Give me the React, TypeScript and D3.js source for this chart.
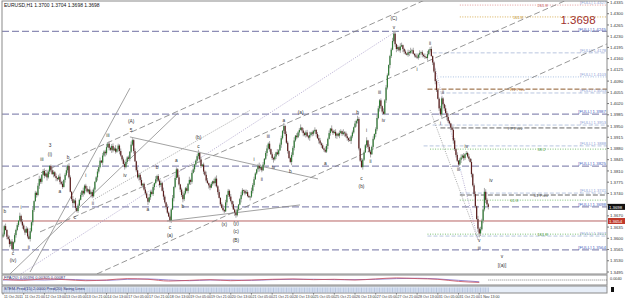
import React from "react";
import * as d3 from "d3";

// ---------- DATA ----------
// H1 closes, in pips above 1.0000 (3698 -> 1.3698); open = previous close
const FIRST_OPEN = 3605;
const CLOSES = [
  3612,3638,3626,3605,3598,3582,3590,3566,3588,3610,
  3626,3641,3655,3670,3652,3640,3628,3618,3630,3606,
  3598,3622,3650,3688,3716,3742,3735,3764,3785,3776,
  3798,3810,3795,3802,3790,3808,3826,3812,3800,3806,
  3794,3788,3784,3792,3776,3770,3760,3782,3798,3812,
  3826,3790,3745,3722,3710,3718,3695,3685,3702,3720,
  3735,3748,3740,3764,3755,3746,3752,3738,3744,3731,
  3752,3776,3790,3808,3822,3842,3836,3858,3870,3865,
  3884,3895,3882,3876,3888,3874,3880,3870,3878,3889,
  3872,3858,3846,3832,3822,3838,3852,3848,3870,3892,
  3906,3872,3840,3812,3790,3798,3782,3765,3770,3752,
  3740,3726,3714,3728,3745,3738,3760,3772,3784,3794,
  3780,3766,3772,3748,3730,3712,3698,3680,3668,3656,
  3690,3725,3760,3788,3815,3790,3768,3752,3735,3722,
  3740,3756,3748,3770,3782,3776,3804,3815,3830,3842,
  3856,3866,3846,3825,3830,3808,3798,3780,3772,3765,
  3758,3770,3778,3772,3786,3762,3744,3726,3706,3695,
  3688,3684,3712,3735,3748,3730,3716,3706,3690,3680,
  3672,3690,3705,3722,3735,3750,3748,3740,3744,3732,
  3728,3730,3748,3766,3784,3802,3815,3826,3818,3822,
  3812,3830,3848,3866,3880,3895,3878,3862,3850,3846,
  3855,3868,3862,3874,3892,3912,3935,3950,3925,3898,
  3872,3850,3838,3860,3882,3905,3920,3915,3930,3938,
  3945,3936,3928,3922,3930,3918,3914,3922,3930,3926,
  3934,3938,3925,3912,3905,3896,3890,3880,3876,3870,
  3888,3910,3928,3942,3935,3928,3932,3920,3926,3920,
  3928,3934,3925,3930,3927,3918,3912,3906,3904,3918,
  3930,3946,3958,3966,3972,3880,3842,3822,3845,3868,
  3890,3905,3885,3870,3862,3885,3910,3925,3940,3975,
  4005,4030,4012,3995,3988,4030,4070,4108,4140,4168,
  4188,4215,4238,4205,4190,4196,4186,4198,4202,4190,
  4182,4176,4172,4180,4178,4184,4186,4175,4170,4166,
  4163,4172,4178,4180,4172,4168,4165,4162,4174,4186,
  4190,4168,4148,4120,4090,4062,4035,4005,3986,4036,
  4018,4005,3990,3978,3965,3958,3945,3938,3905,3878,
  3860,3842,3830,3845,3852,3858,3850,3862,3866,3855,
  3848,3838,3800,3765,3738,3700,3660,3630,3615,3628,
  3655,3690,3745,3720,3706,3698,
];
// upper / lower shadows per bar, in units of 2 pips
const UP_WICKS = [
  "3241352413","2315243142","3524132452","1342531243","2413524135",
  "2431524132","4152341524","3124351423","5142342513","2413542315",
  "3241523412","4315234152","3142531423","2514324135","4231524312",
  "3524132541","2314352413","5241324152","3412531243","2153421354",
  "2413524132","4152341524","3124351423","5142342513","2413542315",
  "3241523412","4315234152","3142531423","2514324135","4231524312",
  "3544132541","2314352413","5241324152","3412531243","2153421354",
  "2413524132","4152341524","326432",
].join("");
const DN_WICKS = [
  "2314253142","4231352413","1425314253","3142524315","2531423142",
  "4213524231","1352423153","2415321425","3142531324","5231423142",
  "2413254132","3152413524","2431524213","4152312435","3214253142",
  "2453142315","4132524131","2315342415","4231524312","1524312453",
  "3142524135","2413152432","4125342315","1352413524","3241524132",
  "2514231452","4132524315","3215432142","1432514253","2543124315",
  "3124532415","4213524132","2351423142","3142531425","2415324153",
  "4231524312","3152431564","243524",
].join("");

const TIME_LABELS = [
  "11 Oct 2011","11 Oct 21:00","12 Oct 13:00","13 Oct 05:00","13 Oct 21:00",
  "14 Oct 13:00","17 Oct 05:00","17 Oct 21:00","18 Oct 13:00","19 Oct 05:00",
  "19 Oct 21:00","20 Oct 13:00","21 Oct 05:00","21 Oct 21:00","24 Oct 13:00",
  "25 Oct 05:00","25 Oct 21:00","26 Oct 13:00","27 Oct 05:00","27 Oct 21:00",
  "28 Oct 13:00","31 Oct 05:00","31 Oct 21:00","1 Nov 13:00",
];
const TIME_LABEL_STEP = 16;

const PRICE_TICKS = [
  1.4335,1.4300,1.4265,1.4230,1.4195,1.4160,1.4125,1.4090,1.4055,1.4020,
  1.3985,1.3950,1.3915,1.3880,1.3845,1.3810,1.3775,1.3740,1.3705,1.3670,
  1.3635,1.3600,1.3565,1.3530,1.3495,
];

const FULL_LEVELS = [1.4245, 1.3987, 1.3825, 1.3698, 1.3564];
const RED_LEVEL = 1.3654;
const LAST_PRICE = 1.3698;

// levels drawn from a start bar to the right edge
const SIDE_LEVELS: [number, number, string, string, number][] = [
  // price, start bar, kind, text, text bar
  [1.4327, 353, "pink", "261.8", 413],
  [1.4290, 353, "gold", "161.8", 394],
  [1.4178, 332, "light", "", 0],
  [1.4103, 338, "lightdot", "", 0],
  [1.4065, 328, "pivot", "R1 Prev", 392],
  [1.4053, 338, "light", "", 0],
  [1.3953, 332, "light", "", 0],
  [1.3944, 338, "pivotgray", "PP Prev", 390],
  [1.3888, 325, "light", "", 0],
  [1.3878, 330, "green", "38.2", 413],
  [1.3741, 353, "light", "", 0],
  [1.3735, 353, "pivotgray", "S1 Prev", 410],
  [1.3719, 353, "green", "61.8", 392],
  [1.3613, 328, "green", "161.8", 413],
  [1.3607, 328, "light", "", 0],
];

// trend lines: [bar1, price1, bar2, price2, kind]
const TREND_LINES: [number, number, number, number, string][] = [
  [-2.3, 1.3747, 326.1, 1.4343, "dash"],
  [28.6, 1.3620, 435.8, 1.4343, "dash"],
  [72.6, 1.3489, 466.7, 1.4206, "dash"],
  [20.9, 1.3495, 98.1, 1.4068, "solid"],
  [5.4, 1.3489, 135.2, 1.3991, "solid"],
  [98.1, 1.3916, 243.4, 1.3785, "solid"],
  [126.7, 1.3654, 229.5, 1.3704, "solid"],
  [13.9, 1.3489, 302.9, 1.4243, "dotpurple"],
  [69.5, 1.3719, 190.9, 1.3999, "dot"],
  [332.3, 1.4156, 367.1, 1.3595, "dotpurple"],
  [330, 1.4000, 367.1, 1.3595, "dot"],
];

// wave labels: [bar, price, text]
const WAVE_LABELS: [number, number, string][] = [
  [1.5,1.3682,"b"],[7.7,1.3553,"c"],[7.7,1.3530,"(iv)"],[13.9,1.3694,"i"],
  [20,1.3570,"ii"],[30.1,1.3844,"iii"],[36.3,1.3890,"3"],[36.3,1.3862,"(i)"],
  [44,1.3744,"a"],[50.2,1.3850,"b"],[55.6,1.3663,"c"],[64,1.3795,"i"],
  [69.5,1.3707,"ii"],[81.1,1.3919,"iii"],[94.3,1.3794,"iv"],[99,1.3934,"5"],
  [99,1.3962,"(A)"],[112,1.3688,"a"],[119,1.3819,"b"],[129,1.3634,"c"],
  [129,1.3608,"(a)"],[134,1.3841,"a"],[139,1.3697,"b"],[151,1.3886,"c"],
  [151,1.3912,"(b)"],[171,1.3641,"(x)"],[180,1.3644,"(y)"],[180,1.3619,"(c)"],
  [180,1.3594,"(B)"],[194,1.3844,"i"],[200,1.3782,"ii"],[205,1.3916,"iii"],
  [209,1.3819,"iv"],[217,1.3968,"a"],[222,1.3807,"b"],[230,1.3990,"(a)"],
  [249,1.3832,"a"],[274,1.3990,"b"],[277,1.3785,"c"],[277,1.3760,"(b)"],
  [281,1.3934,"i"],[284,1.3838,"ii"],[291,1.4053,"iii"],[294,1.3966,"iv"],
  [302,1.4257,"v"],[302,1.4284,"(C)"],[320,1.4125,"i"],[330,1.4206,"ii"],
  [338,1.3956,"i"],[340,1.4053,"ii"],[352,1.3813,"iii"],[358,1.3885,"iv"],
  [368,1.3592,"v"],[368,1.3568,"iii"],[377,1.3781,"iv"],[385.6,1.3544,"v"],
  [385.6,1.3516,"[(a)]"],
];

// indicator pane lines, one value per time label
const IND_RED = [0.2,-0.1,0.3,0.1,-0.2,0.0,0.4,0.2,-0.3,-0.1,0.1,-0.2,0.0,0.2,0.3,0.1,0.2,0.0,0.3,0.6,0.4,0.2,-0.4,-0.7];
const IND_PURPLE = [0.0,0.1,0.0,0.2,0.0,-0.1,0.2,0.3,0.0,-0.2,0.0,0.0,-0.1,0.1,0.2,0.2,0.1,0.1,0.2,0.4,0.5,0.3,-0.1,-0.5];

const FONT = "'Liberation Sans', Arial, sans-serif";

export default function App() {
  const W = 625, H = 298;
  const L = 2, R = 607, T = 1, MB = 274;
  const x = d3.scaleLinear().domain([0, 375]).range([3, 488.3]);
  const y = d3.scaleLinear().domain([1.3495, 1.4335]).range([272, 2.5]);

  const bars = CLOSES.map((c, i) => {
    const o = i === 0 ? FIRST_OPEN : CLOSES[i - 1];
    const hi = Math.max(o, c) + 2 * Number(UP_WICKS[i] || 0);
    const lo = Math.min(o, c) - 2 * Number(DN_WICKS[i] || 0);
    return { i, o: 1 + o / 10000, c: 1 + c / 10000, h: 1 + hi / 10000, l: 1 + lo / 10000 };
  });

  const styleFor = (kind: string) => {
    switch (kind) {
      case "pink": return { stroke: "#e39a9a", dash: "1,1.5", w: 1 };
      case "gold": return { stroke: "#d7ae55", dash: "1,1.5", w: 1 };
      case "light": return { stroke: "#b9c6df", dash: "4,2", w: 1 };
      case "lightdot": return { stroke: "#a9c0e2", dash: "1,1.5", w: 1 };
      case "pivot": return { stroke: "#8c5a2c", dash: "5,2", w: 1 };
      case "pivotgray": return { stroke: "#666666", dash: "5,2", w: 1 };
      case "green": return { stroke: "#7bbf72", dash: "1,1.5", w: 1 };
      default: return { stroke: "#999", dash: "", w: 1 };
    }
  };
  const labelColor = (kind: string) =>
    kind === "pink" ? "#c25555" : kind === "gold" ? "#c0922e" : kind === "pivot" ? "#b06a25" : kind === "green" ? "#4f9a45" : "#555";

  const trendStyle = (kind: string) => {
    switch (kind) {
      case "dash": return { stroke: "#7c7c7c", dash: "6,3" };
      case "solid": return { stroke: "#8a8a8a", dash: "" };
      case "dotpurple": return { stroke: "#a69ac6", dash: "1,1.3" };
      default: return { stroke: "#8f8f8f", dash: "1,1.3" };
    }
  };

  // indicator pane geometry
  const p1Top = 275, p1Bot = 285, p2Top = 286, p2Bot = 293;
  const yInd = d3.scaleLinear().domain([-1, 1]).range([283.5, 276.5]);
  const indX = (k: number) => x(k * TIME_LABEL_STEP);
  const indLine = d3.line<number>().x((_, k) => indX(k)).y((v) => yInd(v)).curve(d3.curveMonotoneX);

  const boxYs = [y(LAST_PRICE), y(RED_LEVEL)];
  const visibleTicks = PRICE_TICKS.filter((p) => boxYs.every((by) => Math.abs(y(p) - by) > 5));

  return (
    <div style={{ position: "fixed", left: 0, top: 0, width: W, height: H, background: "#fff" }}>
      <svg width={W} height={H} style={{ display: "block" }} fontFamily={FONT}>
        <defs>
          <clipPath id="mainclip">
            <rect x={L} y={T} width={R - L} height={MB - T} />
          </clipPath>
        </defs>
        <rect x={0} y={0} width={W} height={H} fill="#fff" />

        <g clipPath="url(#mainclip)">
          {FULL_LEVELS.map((p, k) => (
            <line key={"fl" + k} x1={L} x2={R} y1={y(p)} y2={y(p)} stroke="#8d8db5" strokeWidth={1.3} strokeDasharray="7,3" />
          ))}
          <line x1={L} x2={R} y1={y(RED_LEVEL)} y2={y(RED_LEVEL)} stroke="#b86464" strokeWidth={1} />

          {SIDE_LEVELS.map(([p, b, kind], k) => {
            const s = styleFor(kind);
            return <line key={"sl" + k} x1={x(b)} x2={R} y1={y(p)} y2={y(p)} stroke={s.stroke} strokeWidth={s.w} strokeDasharray={s.dash} />;
          })}

          {TREND_LINES.map(([b1, p1, b2, p2, kind], k) => {
            const s = trendStyle(kind);
            return <line key={"tl" + k} x1={x(b1)} y1={y(p1)} x2={x(b2)} y2={y(p2)} stroke={s.stroke} strokeWidth={0.8} strokeDasharray={s.dash} />;
          })}

          {bars.map((d) => (
            <line key={"w" + d.i} x1={x(d.i)} x2={x(d.i)} y1={y(d.h)} y2={y(d.l)} stroke="#a8a8a8" strokeWidth={1} />
          ))}
          {bars.map((d) => {
            const bull = d.c >= d.o;
            const yt = y(Math.max(d.o, d.c));
            const hgt = Math.max(0.8, Math.abs(y(d.o) - y(d.c)));
            return <rect key={"b" + d.i} x={x(d.i) - 0.6} y={yt} width={1.2} height={hgt} fill={bull ? "#2f7a34" : "#5b1d1d"} />;
          })}

          {WAVE_LABELS.map(([b, p, t], k) => (
            <text key={"wl" + k} x={x(b)} y={y(p)} fontSize={4.8} fill="#333" textAnchor="middle" dominantBaseline="middle">{t}</text>
          ))}

          {SIDE_LEVELS.map(([p, , kind, t, tb], k) =>
            t ? (
              <text key={"st" + k} x={x(tb)} y={y(p) + 1.8} fontSize={4.1} fill={labelColor(kind)}>{t}</text>
            ) : null
          )}
          {SIDE_LEVELS.map(([p, , kind], k) =>
            kind === "light" || kind === "lightdot" || kind === "pink" ? (
              <text key={"rt" + k} x={R - 1} y={y(p) - 0.8} fontSize={4.1} fill="#8fa3d6" textAnchor="end">{"[FULL] " + p.toFixed(4)}</text>
            ) : null
          )}
          {FULL_LEVELS.map((p, k) => (
            <text key={"ft" + k} x={R - 1} y={y(p) - 0.8} fontSize={4.4} fill="#4b5fc0" textAnchor="end">{"[FULL] " + p.toFixed(4)}</text>
          ))}

          <text x={4} y={6.5} fontSize={5} fill="#111">EURUSD,H1  1.3700 1.3704 1.3698 1.3698</text>
          <text x={578} y={24} fontSize={11.5} fill="#a0302c" textAnchor="middle">{LAST_PRICE.toFixed(4)}</text>
        </g>

        <rect x={L} y={T} width={R - L} height={MB - T} fill="none" stroke="#8a8a8a" strokeWidth={1} />

        {PRICE_TICKS.map((p, k) => (
          <line key={"ptl" + k} x1={R} x2={R + 2} y1={y(p)} y2={y(p)} stroke="#777" />
        ))}
        {visibleTicks.map((p, k) => (
          <text key={"pt" + k} x={R + 3} y={y(p) + 1.6} fontSize={4.3} fill="#333">{p.toFixed(4)}</text>
        ))}
        <rect x={R + 1} y={y(LAST_PRICE) - 3} width={17} height={6} fill="#111" />
        <text x={R + 2} y={y(LAST_PRICE) + 1.7} fontSize={4.3} fill="#fff">{LAST_PRICE.toFixed(4)}</text>
        <rect x={R + 1} y={y(RED_LEVEL) - 3} width={17} height={6} fill="#c0392b" />
        <text x={R + 2} y={y(RED_LEVEL) + 1.7} fontSize={4.3} fill="#fff">{RED_LEVEL.toFixed(4)}</text>

        {/* indicator pane 1 */}
        <rect x={L} y={p1Top} width={R - L} height={p1Bot - p1Top} fill="#fff" stroke="#8a8a8a" />
        <text x={4} y={p1Top + 4.3} fontSize={4} fill="#2a2a6a">FPA(20) 0.00396 0.00305 0.00087</text>
        <path d={indLine(IND_PURPLE) || ""} fill="none" stroke="#7b68c4" strokeWidth={0.8} />
        <path d={indLine(IND_RED) || ""} fill="none" stroke="#c84d5a" strokeWidth={0.8} />
        <line x1={x(375)} x2={R} y1={yInd(0)} y2={yInd(0)} stroke="#333" strokeDasharray="1,1" strokeWidth={0.6} />
        <text x={R + 3} y={p1Top + 5} fontSize={3.8} fill="#333">0.0040</text>

        {/* indicator pane 2 */}
        <rect x={L} y={p2Top} width={R - L} height={p2Bot - p2Top} fill="#e7eef8" stroke="#8a8a8a" />
        {bars.map((d) => (
          <line key={"h2" + d.i} x1={x(d.i)} x2={x(d.i)} y1={p2Top + 1.5} y2={p2Bot - 0.5} stroke={d.i % 2 ? "#9fb2d4" : "#c3cfe6"} strokeWidth={0.7} />
        ))}
        <text x={4} y={p2Top + 4} fontSize={4} fill="#2a2a6a">STEM-Pred(15) 2.0000 Pred(20) Swing Lines</text>
        <rect x={R + 4} y={p2Top + 1} width={3} height={5} fill="#111" />

        {TIME_LABELS.map((t, k) => {
          const xx = x(k * TIME_LABEL_STEP);
          return (
            <g key={"tt" + k}>
              <line x1={xx} x2={xx} y1={p2Bot} y2={p2Bot + 1.5} stroke="#777" />
              <text x={xx + 1} y={297.5} fontSize={3.6} fill="#333">{t}</text>
            </g>
          );
        })}
      </svg>
    </div>
  );
}
